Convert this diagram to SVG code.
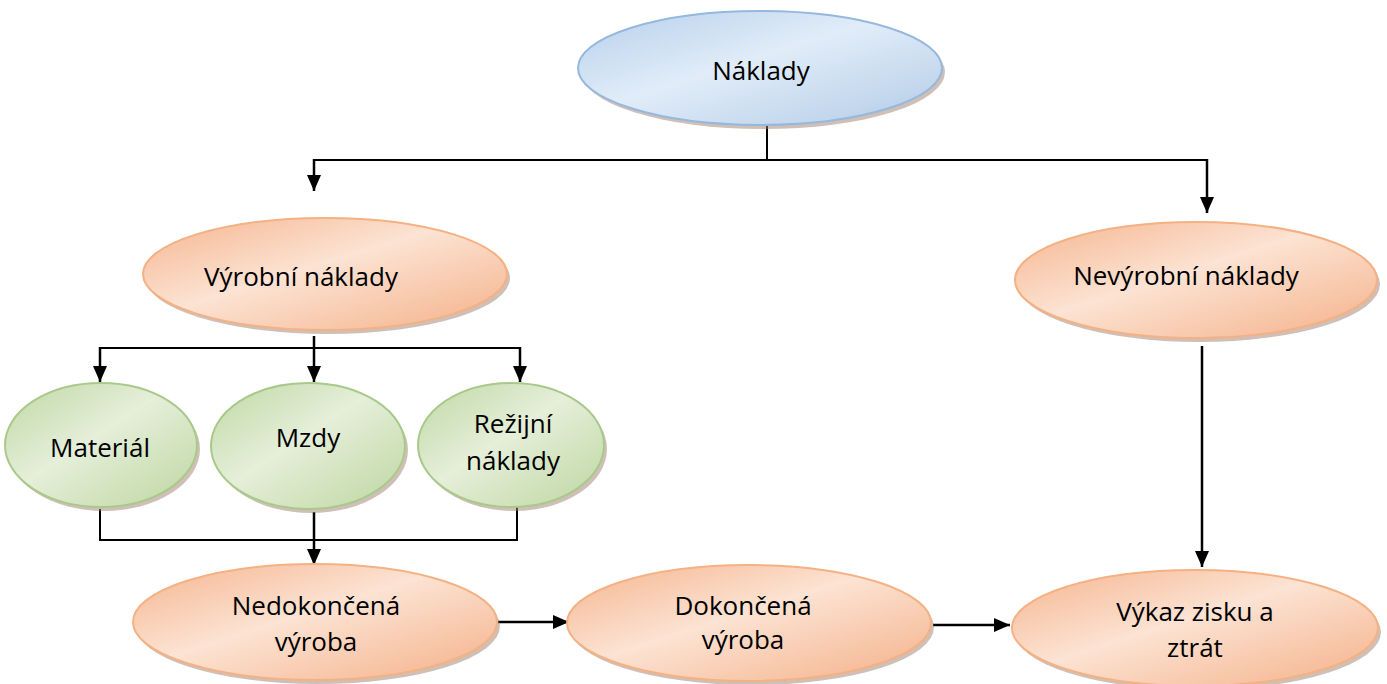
<svg xmlns="http://www.w3.org/2000/svg" width="1387" height="684" viewBox="0 0 1387 684">
<defs>
<linearGradient id="gO" x1="0" y1="0" x2="1" y2="1">
<stop offset="0" stop-color="#f5b48e"/><stop offset="0.45" stop-color="#fce3d3"/><stop offset="1" stop-color="#f4b088"/>
</linearGradient>
<linearGradient id="gB" x1="0" y1="0" x2="1" y2="1">
<stop offset="0" stop-color="#b5cfeb"/><stop offset="0.45" stop-color="#e1ecf8"/><stop offset="1" stop-color="#b2cbe7"/>
</linearGradient>
<linearGradient id="gG" x1="0" y1="0" x2="1" y2="1">
<stop offset="0" stop-color="#bfd8a5"/><stop offset="0.45" stop-color="#e5efd9"/><stop offset="1" stop-color="#bdd6a0"/>
</linearGradient>
<marker id="ah" viewBox="0 0 16 14" refX="16" refY="7" markerWidth="16" markerHeight="14" orient="auto" markerUnits="userSpaceOnUse">
<path d="M0,0 L16,7 L0,14 z" fill="#000"/>
</marker>
</defs>
<style>
.sh{fill:#a08070;opacity:0.5}
.o{fill:url(#gO);stroke:#f4b183;stroke-width:2}
.b{fill:url(#gB);stroke:#95b8dd;stroke-width:2}
.g{fill:url(#gG);stroke:#a9c98a;stroke-width:2}
text{font-family:"Open Sans","Liberation Sans",sans-serif;font-size:26px;fill:#000;text-anchor:middle}
.c{fill:none;stroke:#000;stroke-width:2}
.ca{fill:none;stroke:#000;stroke-width:2.5;marker-end:url(#ah)}
</style>
<g id="connectors">
<path class="c" d="M767,126 V160"/>
<path class="c" d="M314,160 H1207"/>
<path class="ca" d="M314,159 V191"/>
<path class="ca" d="M1207,159 V213"/>
<path class="c" d="M314,336 V348"/>
<path class="c" d="M100,348 H520"/>
<path class="ca" d="M100,347 V382"/>
<path class="ca" d="M314,336 V382"/>
<path class="ca" d="M520,347 V382"/>
<path class="c" d="M100,509 V540 H517 V506"/>
<path class="ca" d="M314,512 V565"/>
<path class="ca" d="M498,622 H569"/>
<path class="ca" d="M933,625 H1010"/>
<path class="ca" d="M1202,346 V567"/>
</g>
<g id="naklady">
<ellipse class="sh" cx="763" cy="72" rx="182" ry="57"/>
<ellipse class="b" cx="760" cy="68" rx="182" ry="57"/>
<text x="761" y="80">Náklady</text>
</g>
<g id="vyrobni">
<ellipse class="sh" cx="328" cy="278" rx="182" ry="56"/>
<ellipse class="o" cx="325" cy="274" rx="182" ry="56"/>
<text x="301" y="286">Výrobní náklady</text>
</g>
<g id="nevyrobni">
<ellipse class="sh" cx="1199" cy="284" rx="181" ry="58"/>
<ellipse class="o" cx="1196" cy="280" rx="181" ry="58"/>
<text x="1186" y="285">Nevýrobní náklady</text>
</g>
<g id="material">
<ellipse class="sh" cx="104" cy="449" rx="96" ry="62"/>
<ellipse class="g" cx="101" cy="445" rx="96" ry="62"/>
<text x="100" y="457">Materiál</text>
</g>
<g id="mzdy">
<ellipse class="sh" cx="311" cy="450" rx="97" ry="63"/>
<ellipse class="g" cx="308" cy="446" rx="97" ry="63"/>
<text x="308" y="447">Mzdy</text>
</g>
<g id="rezijni">
<ellipse class="sh" cx="514" cy="449" rx="93" ry="62"/>
<ellipse class="g" cx="511" cy="445" rx="93" ry="62"/>
<text x="513" y="433">Režijní</text>
<text x="513" y="470">náklady</text>
</g>
<g id="nedokoncena">
<ellipse class="sh" cx="318" cy="626" rx="182" ry="58"/>
<ellipse class="o" cx="315" cy="622" rx="182" ry="58"/>
<text x="316" y="615">Nedokončená</text>
<text x="316" y="651">výroba</text>
</g>
<g id="dokoncena">
<ellipse class="sh" cx="752" cy="627" rx="182" ry="58"/>
<ellipse class="o" cx="749" cy="623" rx="182" ry="58"/>
<text x="743" y="615">Dokončená</text>
<text x="743" y="649">výroba</text>
</g>
<g id="vykaz">
<ellipse class="sh" cx="1198" cy="632" rx="183" ry="58"/>
<ellipse class="o" cx="1195" cy="628" rx="183" ry="58"/>
<text x="1195" y="621">Výkaz zisku a</text>
<text x="1195" y="657">ztrát</text>
</g>
</svg>
